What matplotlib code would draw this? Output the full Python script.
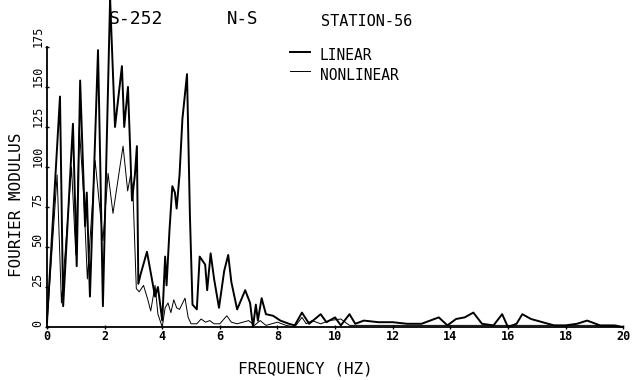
import matplotlib
matplotlib.use("Agg")
import matplotlib.pyplot as plt

# linear response (thick line)
lin_freq = [0.0, 0.45, 0.56, 0.9, 1.03, 1.15, 1.32, 1.38, 1.49, 1.77, 1.85, 1.94,
            2.19, 2.36, 2.6, 2.68, 2.81, 2.95, 3.05, 3.12, 3.17, 3.25, 3.47,
            3.6, 3.75, 3.85, 4.0, 4.1, 4.15, 4.25, 4.35, 4.44, 4.5, 4.6, 4.7, 4.86, 4.96,
            5.05, 5.2, 5.3, 5.49, 5.56, 5.68, 5.8, 5.97, 6.15, 6.29, 6.4, 6.6, 6.88, 7.05,
            7.15, 7.25, 7.32, 7.45, 7.6, 7.85, 8.1, 8.4, 8.6, 8.85, 9.1, 9.3, 9.5, 9.7,
            10.0, 10.2, 10.5, 10.7, 11.0, 11.5, 12.0, 12.5, 13.0, 13.6, 13.9, 14.2, 14.5,
            14.8, 15.1, 15.5, 15.8, 16.0, 16.3, 16.5, 16.8, 17.2, 17.6, 18.0, 18.4, 18.75,
            19.2, 19.7, 20.0]
lin_mod = [3, 144, 13, 127, 38, 154, 63, 84, 19, 173, 100, 13,
           205, 125, 163, 125, 150, 79, 95, 113, 27, 33, 47,
           34, 19, 25, 4, 44, 26, 60, 88, 84, 74, 95, 130, 158, 70,
           14, 11, 44, 39, 23, 46, 30, 12, 35, 45, 28, 11, 23, 15,
           0, 14, 4, 18, 8, 7, 4, 2, 1, 9, 2, 5, 8, 3,
           6, 1, 8, 2, 4, 3, 3, 2, 2, 6, 1, 5, 6,
           9, 2, 1, 8, 0, 2, 8, 5, 3, 1, 1, 2, 4,
           1, 1, 0]

# nonlinear response (thin line)
nl_freq = [0.0, 0.35, 0.5, 0.85, 1.0, 1.12, 1.28, 1.4, 1.55, 1.67, 1.8, 1.94, 2.12,
           2.29, 2.53, 2.64, 2.8, 2.9, 2.98, 3.1, 3.2, 3.35, 3.5, 3.6, 3.75,
           3.85, 4.0, 4.1, 4.2, 4.3, 4.4, 4.5, 4.6, 4.79, 4.9, 5.0, 5.2, 5.35, 5.5, 5.65,
           5.8, 6.0, 6.24, 6.4, 6.6, 6.8, 7.0, 7.2, 7.4, 7.6, 7.8, 8.0, 8.3, 8.6, 8.85,
           9.0, 9.2, 9.5, 9.8, 10.2, 10.5, 11.0, 12.0, 13.0, 14.0, 15.0, 16.0, 17.0,
           18.0, 19.0, 20.0]
nl_mod = [2, 95, 15, 100, 45, 125, 80, 30, 70, 104, 80, 54, 96,
          71, 100, 113, 85, 95, 86, 24, 22, 26, 17, 10, 26,
          8, 0, 12, 15, 9, 17, 12, 11, 18, 6, 2, 2, 5, 3, 4,
          2, 2, 7, 3, 2, 3, 4, 1, 4, 1, 2, 3, 1, 0, 6,
          2, 4, 2, 4, 5, 1, 1, 1, 1, 1, 1, 1, 1,
          1, 1, 0]

x_ticks = [0, 2, 4, 6, 8, 10, 12, 14, 16, 18, 20]
y_ticks = [0, 25, 50, 75, 100, 125, 150, 175]

plt.rcParams['font.family'] = ['DejaVu Sans Mono']

fig = plt.figure(figsize=(6.38, 3.8), dpi=100)
ax = fig.add_axes([0.0737, 0.1395, 0.903, 0.737])

ax.plot(lin_freq, lin_mod, color='black', lw=1.4, clip_on=False)
ax.plot(nl_freq, nl_mod, color='black', lw=0.7, clip_on=False)

ax.set_xlim(0, 20)
ax.set_ylim(0, 175)
for side in ['top', 'right']:
    ax.spines[side].set_visible(False)
for side in ['left', 'bottom']:
    ax.spines[side].set_linewidth(1.3)

ax.set_xticks(x_ticks)
ax.set_xticklabels([str(t) for t in x_ticks], fontsize=8.5, fontweight='bold')
ax.set_yticks(y_ticks)
ax.set_yticklabels([str(t) for t in y_ticks], fontsize=8.5, rotation=90, va='bottom')
ax.tick_params(axis='both', direction='inout', length=3, width=1, pad=0.5)

fig.text(305 / 638, 1 - 369 / 380, 'FREQUENCY (HZ)', fontsize=11.5, ha='center', va='center')
fig.text(17 / 638, 1 - 205 / 380, 'FOURIER MODULUS', fontsize=11.5, rotation=90,
         ha='center', va='center')

fig.text(136 / 638, 1 - 19 / 380, 'S-252', fontsize=13, ha='center', va='center')
fig.text(243 / 638, 1 - 19 / 380, 'N-S', fontsize=12.5, ha='center', va='center')
fig.text(367 / 638, 1 - 22 / 380, 'STATION-56', fontsize=11, ha='center', va='center')

# legend drawn by hand like the plotter
fig.lines.append(plt.Line2D([290 / 638, 310 / 638], [1 - 52 / 380, 1 - 52 / 380],
                            color='black', lw=1.4, transform=fig.transFigure))
fig.lines.append(plt.Line2D([290 / 638, 310 / 638], [1 - 71 / 380, 1 - 71 / 380],
                            color='black', lw=0.7, transform=fig.transFigure))
fig.text(320 / 638, 1 - 55 / 380, 'LINEAR', fontsize=10.5, ha='left', va='center')
fig.text(320 / 638, 1 - 75 / 380, 'NONLINEAR', fontsize=10.5, ha='left', va='center')

fig.savefig('out.png', dpi=100)
